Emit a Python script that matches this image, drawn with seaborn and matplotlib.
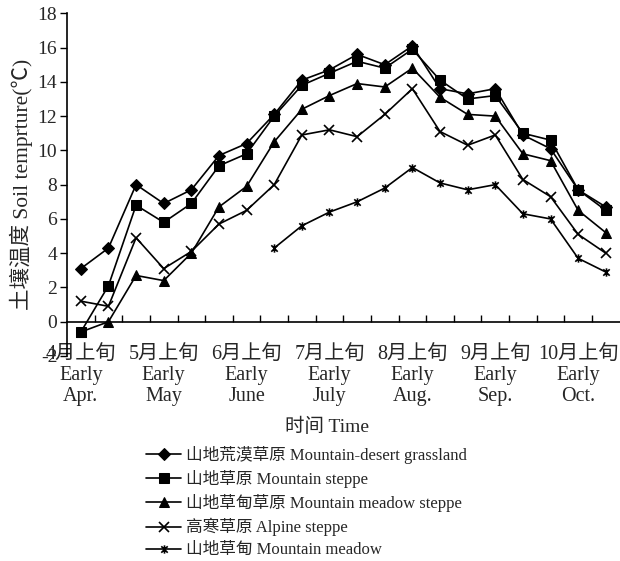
import numpy as np
import pandas as pd
import matplotlib
matplotlib.use("Agg")
import matplotlib.pyplot as plt
from matplotlib.path import Path
import seaborn as sns

# ---- data ----
x_idx = list(range(20))
tick_pos = [0, 3, 6, 9, 12, 15, 18]
tick_labels = ["4月上旬\nEarly\nApr.", "5月上旬\nEarly\nMay", "6月上旬\nEarly\nJune",
               "7月上旬\nEarly\nJuly", "8月上旬\nEarly\nAug.", "9月上旬\nEarly\nSep.",
               "10月上旬\nEarly\nOct."]

desert = [3.1, 4.3, 8.0, 6.9, 7.7, 9.7, 10.4, 12.1, 14.1, 14.7, 15.6, 15.0, 16.1,
          13.6, 13.3, 13.6, 10.9, 10.1, 7.7, 6.7]
steppe = [-0.6, 2.1, 6.8, 5.8, 6.9, 9.1, 9.8, 12.0, 13.8, 14.5, 15.2, 14.8, 15.9,
          14.1, 13.0, 13.2, 11.0, 10.6, 7.7, 6.5]
meadow_steppe = [-0.6, 0.0, 2.7, 2.4, 4.0, 6.7, 7.9, 10.5, 12.4, 13.2, 13.9, 13.7, 14.8,
                 13.1, 12.1, 12.0, 9.8, 9.4, 6.5, 5.2]
alpine = [1.2, 0.9, 4.9, 3.1, 4.1, 5.7, 6.5, 8.0, 10.9, 11.2, 10.8, 12.1, 13.6,
          11.1, 10.3, 10.9, 8.3, 7.3, 5.1, 4.0]
meadow_x = list(range(7, 20))
meadow = [4.3, 5.6, 6.4, 7.0, 7.8, 9.0, 8.1, 7.7, 8.0, 6.3, 6.0, 3.7, 2.9]

labels = ["山地荒漠草原 Mountain-desert grassland", "山地草原 Mountain steppe",
          "山地草甸草原 Mountain meadow steppe", "高寒草原 Alpine steppe",
          "山地草甸 Mountain meadow"]

# ---- style ----
sns.set_theme(style="white")
plt.rcParams["font.family"] = ["Liberation Serif", "Noto Sans CJK SC", "DejaVu Sans"]
plt.rcParams["axes.unicode_minus"] = False

star = Path([(-1, -1), (1, 1), (-1, 1), (1, -1), (0, -1.3), (0, 1.3)],
            [Path.MOVETO, Path.LINETO, Path.MOVETO, Path.LINETO, Path.MOVETO, Path.LINETO])

fig = plt.figure(figsize=(6.2, 5.61), dpi=100)
ax = fig.add_axes([67 / 620, 1 - 356 / 561, 552.6 / 620, 342.7 / 561])

series = [
    (x_idx, desert, dict(marker="D", markersize=6.5)),
    (x_idx, steppe, dict(marker="s", markersize=7)),
    (x_idx, meadow_steppe, dict(marker="^", markersize=7.5)),
    (x_idx, alpine, dict(marker="x", markersize=7, markeredgewidth=1.2)),
    (meadow_x, meadow, dict(marker=star, markersize=6, markeredgewidth=1.2)),
]
for (xs, ys, mk), lab in zip(series, labels):
    sns.lineplot(x=xs, y=ys, ax=ax, color="black", linewidth=1.2,
                 markerfacecolor="black", markeredgecolor="black",
                 label=lab, **mk)

ax.set_xlim(-0.5, 19.5)
ax.set_ylim(-2, 18)
ax.set_yticks(np.arange(-2, 19, 2))
ax.tick_params(axis="y", direction="out", length=5, width=1, color="black",
               labelsize=14, pad=2, left=True)

for s in ["top", "right"]:
    ax.spines[s].set_visible(False)
ax.spines["left"].set_color("black")
ax.spines["left"].set_linewidth(1.2)
ax.spines["bottom"].set_position(("data", 0))
ax.spines["bottom"].set_color("black")
ax.spines["bottom"].set_linewidth(1.2)

ax.set_xticks(tick_pos)
ax.set_xticklabels(tick_labels, fontsize=14.5, linespacing=1.12)
ax.set_xticks(np.arange(0.5, 19.5, 1), minor=True)
ax.tick_params(axis="x", which="major", length=0, pad=17)
ax.tick_params(axis="x", which="minor", direction="in", length=5, width=1,
               color="black", bottom=True)

ax.set_ylabel("土壤温度 Soil temprture(℃)", fontsize=15.5, labelpad=3)
ax.set_xlabel("")
fig.text(327 / 620, 1 - 427 / 561, "时间 Time", fontsize=14, ha="center", va="center")

leg = ax.legend(loc="upper left", bbox_to_anchor=(146 / 620, 1 - 446 / 561),
                bbox_transform=fig.transFigure, frameon=False, fontsize=12,
                handlelength=2.1, handletextpad=0.3, labelspacing=0.36,
                borderpad=0, borderaxespad=0)
ax.grid(False)

fig.savefig("out.png", dpi=100)
